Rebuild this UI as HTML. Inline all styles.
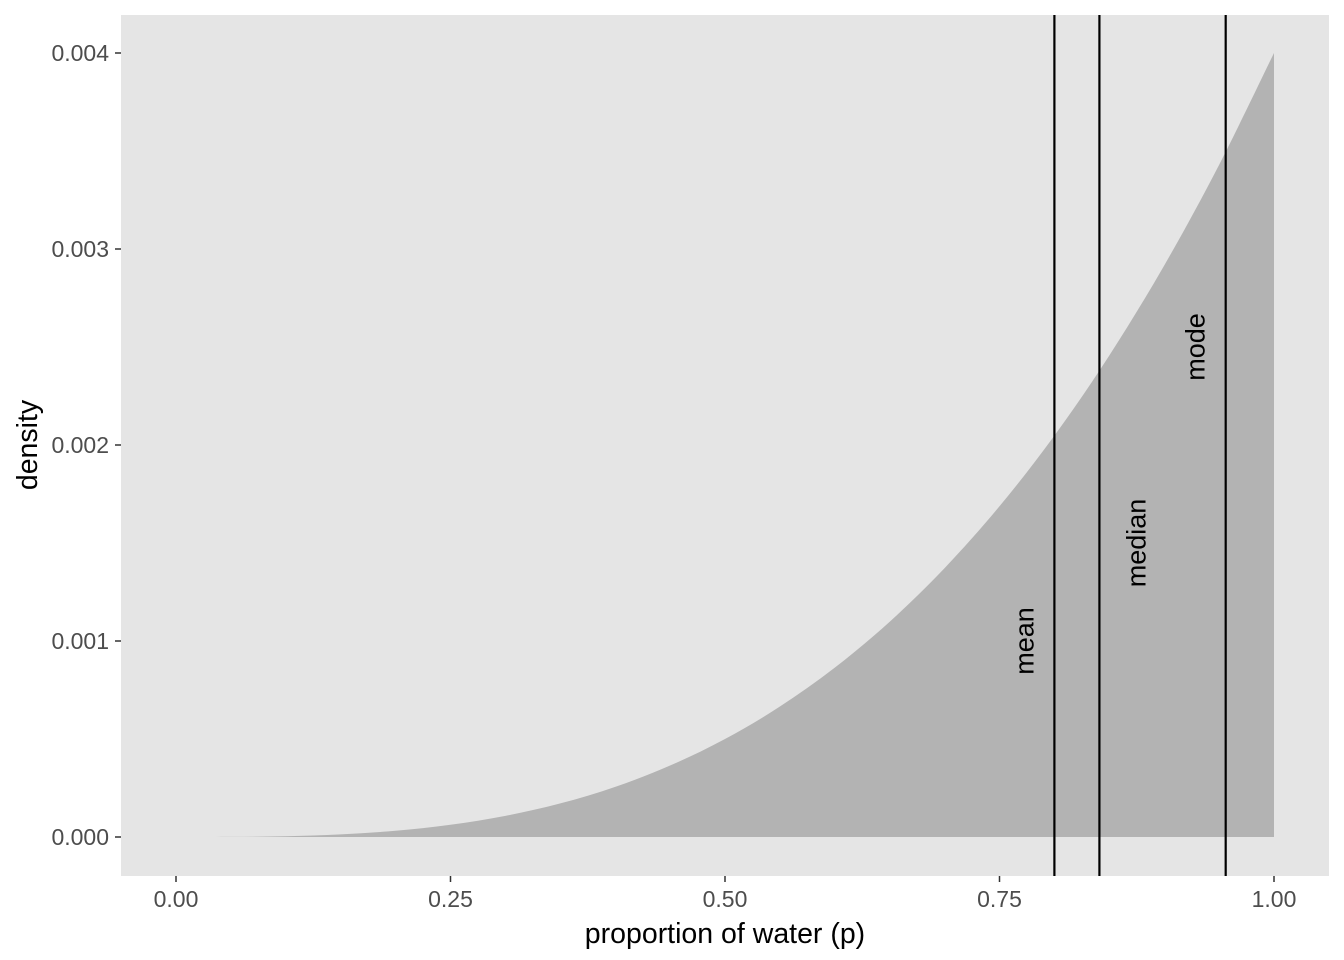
<!DOCTYPE html>
<html><head><meta charset="utf-8"><style>
html,body{margin:0;padding:0;background:#fff;}
svg{display:block;font-family:"Liberation Sans",Arial,sans-serif;}
</style></head><body>
<svg id="chart" width="1344" height="960">
<rect x="121" y="15" width="1208" height="861" fill="#e5e5e5"/>
<g id="marks"></g>
<g id="axes"></g>
<text x="725" y="943" font-size="28.5" text-anchor="middle" fill="#000">proportion of water (p)</text>
<text transform="translate(37,445) rotate(-90)" font-size="28.5" text-anchor="middle" fill="#000">density</text>
</svg>
<script>
const pGrid=[0,0.05,0.1,0.15,0.2,0.25,0.3,0.35,0.4,0.45,0.5,0.55,0.6,0.65,0.7,0.75,0.8,0.85,0.9,0.95,1];
const density=[0,0.0000005,0.000004,0.0000135,0.000032,0.0000625,0.000108,0.0001715,0.000256,0.0003645,0.0005,0.0006655,0.000864,0.0010985,0.001372,0.0016875,0.002048,0.0024565,0.002916,0.0034295,0.004];
const statNames=["mean","median","mode"];
const statValues=[0.8,0.841,0.956];
const statLabelY=[0.001,0.0015,0.0025];
const statLabelSide=[-1,1,-1];
const xTicks=[0,0.25,0.5,0.75,1];
const xTickLabels=["0.00","0.25","0.50","0.75","1.00"];
const yTicks=[0,0.001,0.002,0.003,0.004];
const yTickLabels=["0.000","0.001","0.002","0.003","0.004"];
const X=v=>176+v*1098;
const Y=v=>837-v*196000;
const NS="http://www.w3.org/2000/svg";
const marks=document.getElementById('marks'), axes=document.getElementById('axes');
function mk(tag,attrs,parent){const e=document.createElementNS(NS,tag);for(const k in attrs)e.setAttribute(k,attrs[k]);parent.appendChild(e);return e;}
const pts=pGrid.map((p,i)=>[X(p),Y(density[i])]);
let d="M"+pts[0][0]+","+Y(0);
d+=" L"+pts[0][0]+","+pts[0][1];
for(let i=0;i<pts.length-1;i++){
 const p0=pts[Math.max(0,i-1)],p1=pts[i],p2=pts[i+1],p3=pts[Math.min(pts.length-1,i+2)];
 const c1=[p1[0]+(p2[0]-p0[0])/6,p1[1]+(p2[1]-p0[1])/6];
 const c2=[p2[0]-(p3[0]-p1[0])/6,p2[1]-(p3[1]-p1[1])/6];
 d+=` C${c1[0]},${c1[1]} ${c2[0]},${c2[1]} ${p2[0]},${p2[1]}`;
}
d+=" L"+pts[pts.length-1][0]+","+Y(0)+" Z";
const area=mk('path',{d:d,fill:'#b3b3b3'},marks);


statValues.forEach((v,i)=>{
 const l=mk('line',{x1:X(v),x2:X(v),y1:15,y2:876,stroke:'#000','stroke-width':2.2},marks);
 
 
 const tx=X(v)+(statLabelSide[i]<0?-21:46);
 const t=mk('text',{transform:`translate(${tx},${Y(statLabelY[i])}) rotate(-90)`,'font-size':27,'text-anchor':'middle',fill:'#000'},marks);
 t.textContent=statNames[i];
 
 
});
xTicks.forEach((v,i)=>{
 const tk=mk('line',{x1:X(v),x2:X(v),y1:876,y2:882,stroke:'#333','stroke-width':1.5},axes);
 
 
 const t=mk('text',{x:X(v),y:907,'font-size':23,'text-anchor':'middle',fill:'#4d4d4d'},axes);
 t.textContent=xTickLabels[i];
 
 
});
yTicks.forEach((v,i)=>{
 const tk=mk('line',{x1:115,x2:121,y1:Y(v),y2:Y(v),stroke:'#333','stroke-width':1.5},axes);
 
 
 const t=mk('text',{x:109,y:Y(v)+8,'font-size':23,'text-anchor':'end',fill:'#4d4d4d'},axes);
 t.textContent=yTickLabels[i];
 
 
});
</script>
</body></html>
